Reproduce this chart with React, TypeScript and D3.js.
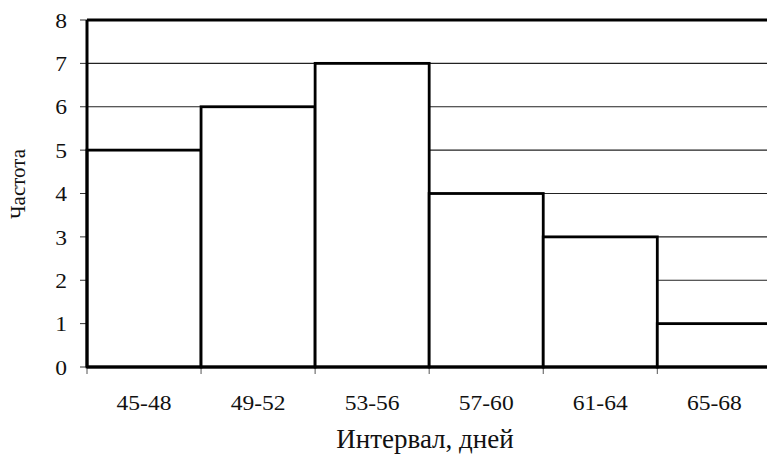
import React from "react";
import * as d3 from "d3";

const categories = ["45-48", "49-52", "53-56", "57-60", "61-64", "65-68"];
const frequencies = [5, 6, 7, 4, 3, 1];
const yTicks = [0, 1, 2, 3, 4, 5, 6, 7, 8];
const xTitle = "Интервал, дней";
const yTitle = "Частота";

export default function App() {
  const W = 767, H = 454;
  const left = 87, top = 20, bottom = 367;
  const bandW = 114.06;
  const right = left + bandW * categories.length;
  const x = d3.scaleBand().domain(categories).range([left, right]).padding(0);
  const y = d3.scaleLinear().domain([0, 8]).range([bottom, top]);
  const font = "'Liberation Serif', 'Times New Roman', serif";
  const boundaries = d3.range(categories.length + 1).map((i) => left + i * x.bandwidth());

  return (
    <div style={{ position: "fixed", left: 0, top: 0, width: W, height: H, background: "#fff" }}>
      <svg width={W} height={H} style={{ display: "block" }}>
        <rect x={0} y={0} width={W} height={H} fill="#fff" />
        {yTicks.filter((t) => t > 0 && t < 8).map((t) => (
          <line key={"g" + t} x1={left} x2={right} y1={y(t)} y2={y(t)} stroke="#222" strokeWidth={1.2} />
        ))}
        {yTicks.map((t) => (
          <line key={"yt" + t} x1={left - 7} x2={left} y1={y(t)} y2={y(t)} stroke="#333" strokeWidth={1} />
        ))}
        {boundaries.map((b, i) => (
          <line key={"xt" + i} x1={b} x2={b} y1={bottom} y2={bottom + 7} stroke="#555" strokeWidth={1} />
        ))}
        {categories.map((c, i) => (
          <rect
            key={c}
            x={x(c)}
            y={y(frequencies[i])}
            width={x.bandwidth()}
            height={bottom - y(frequencies[i])}
            fill="#fff"
            stroke="#000"
            strokeWidth={2.8}
          />
        ))}
        <line x1={left} x2={right} y1={top} y2={top} stroke="#000" strokeWidth={3} />
        <line x1={left} x2={left} y1={top} y2={bottom} stroke="#000" strokeWidth={3} />
        <line x1={left} x2={right} y1={bottom} y2={bottom} stroke="#000" strokeWidth={3} />
        <line x1={right} x2={right} y1={top} y2={bottom} stroke="#000" strokeWidth={3} />
        {yTicks.map((t) => (
          <text key={"yl" + t} transform={`translate(67, ${y(t)}) scale(1.07, 1)`} dy="0.35em" textAnchor="end" fontFamily={font} fontSize={22} fill="#111">
            {t}
          </text>
        ))}
        {categories.map((c) => (
          <text key={"xl" + c} transform={`translate(${(x(c) as number) + x.bandwidth() / 2}, 410) scale(1.07, 1)`} textAnchor="middle" fontFamily={font} fontSize={22} fill="#111">
            {c}
          </text>
        ))}
        <text x={425} y={448} textAnchor="middle" fontFamily={font} fontSize={27} fill="#111">
          {xTitle}
        </text>
        <text transform={`translate(25, 184) rotate(-90)`} textAnchor="middle" fontFamily={font} fontSize={21} fill="#111">
          {yTitle}
        </text>
      </svg>
    </div>
  );
}
